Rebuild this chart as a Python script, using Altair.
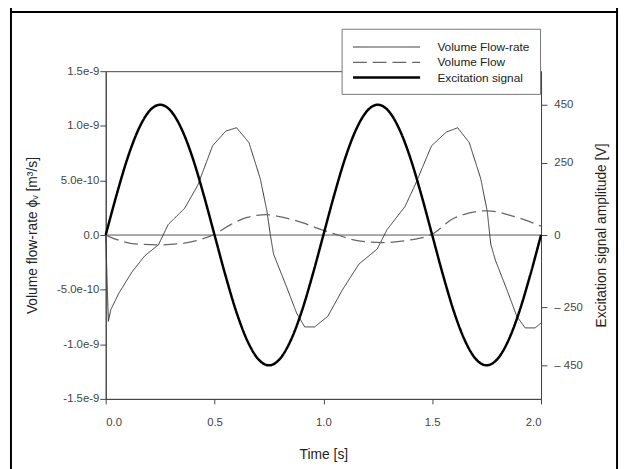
import altair as alt
import pandas as pd

SERIES = ["Volume Flow-rate", "Volume Flow", "Excitation signal"]

# Volume flow-rate (thin solid line), m^3/s
rate_t = [0.0, 0.012, 0.023, 0.06, 0.12, 0.18, 0.242, 0.287, 0.363, 0.423, 0.491,
          0.552, 0.601, 0.658, 0.71, 0.741, 0.756, 0.771, 0.831, 0.877, 0.914,
          0.96, 0.985, 1.02, 1.088, 1.164, 1.247, 1.293, 1.375, 1.421, 1.497,
          1.565, 1.617, 1.67, 1.723, 1.753, 1.769, 1.791, 1.844, 1.889, 1.927,
          1.973, 2.0]
rate_v = [0.0, -7.9e-10, -6.85e-10, -5.34e-10, -3.4e-10, -1.89e-10, -0.9e-10,
          0.96e-10, 2.46e-10, 4.57e-10, 8.17e-10, 9.52e-10, 9.82e-10, 8.47e-10,
          5.16e-10, 2.16e-10, 0.06e-10, -1.74e-10, -4.75e-10, -7.14e-10, -8.41e-10,
          -8.41e-10, -8.0e-10, -7.45e-10, -5.0e-10, -2.64e-10, -1.29e-10, 0.51e-10,
          2.61e-10, 4.57e-10, 8.17e-10, 9.43e-10, 9.82e-10, 8.47e-10, 5.16e-10,
          2.16e-10, -0.84e-10, -2.34e-10, -5.05e-10, -7.45e-10, -8.5e-10,
          -8.5e-10, -8.05e-10]

# Volume flow (dashed line)
flow_t = [0.0, 0.06, 0.12, 0.242, 0.347, 0.423, 0.499, 0.574, 0.65, 0.741, 0.816,
          0.907, 0.967, 1.058, 1.149, 1.27, 1.39, 1.497, 1.602, 1.753, 1.874, 2.0]
flow_v = [0.0, -0.48e-10, -0.78e-10, -0.9e-10, -0.78e-10, -0.48e-10, 0.06e-10,
          0.96e-10, 1.62e-10, 1.86e-10, 1.62e-10, 1.11e-10, 0.66e-10, 0.06e-10,
          -0.48e-10, -0.69e-10, -0.48e-10, 0.06e-10, 1.56e-10, 2.22e-10, 1.71e-10,
          0.81e-10]

# Excitation signal (thick line), V
exc_t = [0.0, 0.05, 0.1, 0.15, 0.2, 0.25, 0.3, 0.35, 0.4, 0.45, 0.5,
         0.55, 0.6, 0.65, 0.7, 0.75, 0.8, 0.85, 0.9, 0.95, 1.0,
         1.05, 1.1, 1.15, 1.2, 1.25, 1.3, 1.35, 1.4, 1.45, 1.5,
         1.55, 1.6, 1.65, 1.7, 1.75, 1.8, 1.85, 1.9, 1.95, 2.0]
exc_v = [0, 139, 265, 364, 428, 450, 428, 364, 265, 139, 0,
         -139, -265, -364, -428, -450, -428, -364, -265, -139, 0,
         139, 265, 364, 428, 450, 428, 364, 265, 139, 0,
         -139, -265, -364, -428, -450, -428, -364, -265, -139, 0]

x_ticks = [0.0, 0.5, 1.0, 1.5, 2.0]
left_labels = ["-1.5e-9", "-1.0e-9", "-5.0e-10", "0.0", "5.0e-10", "1.0e-9", "1.5e-9"]
left_ticks = [-1.5e-9, -1.0e-9, -5.0e-10, 0.0, 5.0e-10, 1.0e-9, 1.5e-9]
right_ticks = [-450, -250, 0, 250, 450]
right_labels = ["\u2013 450", "\u2013 250", "0", "250", "450"]

FONT = "Liberation Sans"

rate = pd.DataFrame({"t": rate_t, "v": rate_v, "series": SERIES[0]})
flow = pd.DataFrame({"t": flow_t, "v": flow_v, "series": SERIES[1]})
exc = pd.DataFrame({"t": exc_t, "v": exc_v, "series": SERIES[2]})
one = pd.DataFrame({"a": [0]})

left_expr = "[" + ",".join("'%s'" % s for s in left_labels) + "][round(datum.value*2e9)+3]"
right_expr = ""
for v, s in zip(right_ticks, right_labels):
    right_expr += "datum.value == %d ? '%s' : " % (v, s)
right_expr += "datum.label"

legend = alt.Legend(
    title=None, orient="none", legendX=239, legendY=-43,
    symbolType="M-1,0L7.5,0", symbolSize=256, labelOffset=68,
    labelFont=FONT, labelFontSize=12, labelColor="#222222",
    padding=10, rowPadding=0, fillColor="white", strokeColor="#777777",
)

style = dict(
    color=alt.Color("series:N", scale=alt.Scale(domain=SERIES, range=["#333333", "#666666", "#000000"]), legend=legend),
    strokeDash=alt.StrokeDash("series:N", scale=alt.Scale(domain=SERIES, range=[[1, 0], [14, 6], [1, 0]]), legend=legend),
    strokeWidth=alt.StrokeWidth("series:N", scale=alt.Scale(type="ordinal", domain=SERIES, range=[1.0, 1.3, 2.5]), legend=legend),
)

x_enc = alt.X("t:Q", scale=alt.Scale(domain=[0, 2], nice=False, zero=False),
              axis=alt.Axis(values=x_ticks, format=".1f", title="Time [s]",
                            tickSize=5, labelPadding=13, titlePadding=20))

y_left = alt.Y("v:Q", scale=alt.Scale(domain=[-1.5e-9, 1.5e-9], nice=False),
               axis=alt.Axis(values=left_ticks, labelExpr=left_expr,
                             title="Volume flow-rate \u03d5\u1d65 [m\u00b3/s]",
                             titleX=-74, titleY=166, titleBaseline="middle", titleAngle=270,
                             tickSize=6, labelPadding=1))

y_right = alt.Y("v:Q", scale=alt.Scale(domain=[-566, 566], nice=False),
                axis=alt.Axis(orient="right", values=right_ticks, labelExpr=right_expr,
                              title="Excitation signal amplitude [V]", titleAngle=270,
                              titleX=61, titleY=166, titleBaseline="middle",
                              tickSize=6, labelPadding=7))

zero = alt.Chart(one).mark_rule(color="#555555", strokeWidth=1).encode(y=alt.datum(0))
rate_line = alt.Chart(rate).mark_line(interpolate="linear").encode(x=x_enc, y=y_left, **style)
flow_line = alt.Chart(flow).mark_line(interpolate="monotone").encode(x=x_enc, y=y_left, **style)

frame_l = alt.Chart(one).mark_rule(color="black", strokeWidth=2).encode(
    x=alt.value(-96), y=alt.value(-70), y2=alt.value(420))
frame_r = alt.Chart(one).mark_rule(color="black", strokeWidth=2).encode(
    x=alt.value(518), y=alt.value(-70), y2=alt.value(420))
frame_t = alt.Chart(one).mark_rule(color="black", strokeWidth=2).encode(
    x=alt.value(-97), x2=alt.value(519), y=alt.value(-60))

left = alt.layer(zero, rate_line, flow_line, frame_l, frame_r, frame_t)
right = alt.Chart(exc).mark_line(interpolate="monotone").encode(x=x_enc, y=y_right, **style)

chart = (
    alt.layer(left, right)
    .resolve_scale(y="independent")
    .properties(
        width=441, height=332,
        padding={"left": 99, "top": 61, "right": 80, "bottom": 68},
        autosize=alt.AutoSizeParams(type="none"),
    )
    .configure_view(stroke="#444444", strokeWidth=1)
    .configure_axis(
        grid=False, labelFont=FONT, titleFont=FONT, labelFontSize=11.5,
        titleFontSize=14, titleFontWeight="normal", labelColor="#444444",
        titleColor="#222222", domainColor="#444444", tickColor="#444444",
    )
)

chart.save("out.html", embed_options={"renderer": "svg", "actions": False})
